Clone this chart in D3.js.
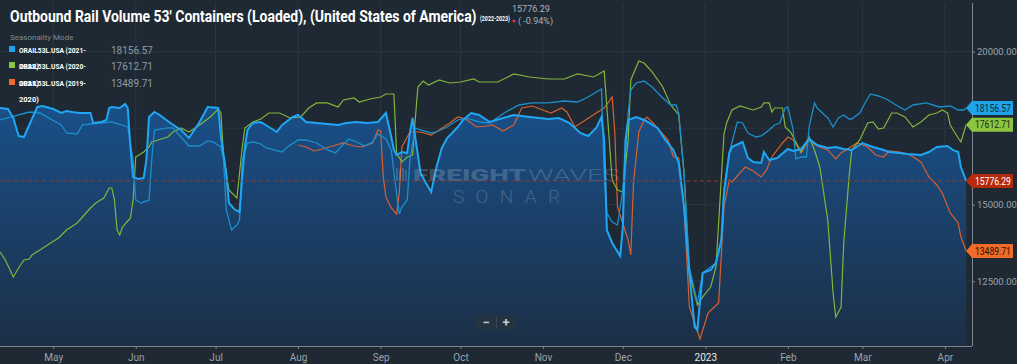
<!DOCTYPE html>
<html><head><meta charset="utf-8">
<script src="https://cdn.jsdelivr.net/npm/d3@7"></script>
<style>html,body{margin:0;padding:0;background:#1e2933;overflow:hidden}svg{display:block}</style>
</head><body><svg id="c" width="1017" height="364"></svg>
<script>
// ---- data ----
const titleText = "Outbound Rail Volume 53' Containers (Loaded), (United States of America)";
const titleSuffix = "(2022-2023)";
const lastValue = 15776.29;
const lastChange = "( -0.94%)";
const legendLabels = ["ORAIL53L.USA (2021-", "ORAIL53L.USA (2020-", "ORAIL53L.USA (2019-"];
const legendWraps = ["2022)", "2021)", "2020)"];
const legendValues = [18156.57, 17612.71, 13489.71];
const yTicks = [12500, 15000, 20000];
const monthTicks = ["2022-05-01","2022-06-01","2022-07-01","2022-08-01","2022-09-01","2022-10-01","2022-11-01","2022-12-01","2023-01-01","2023-02-01","2023-03-01","2023-04-01"];
const xDomain = ["2022-04-11","2023-04-11"];
const yDomain = [10382, 21591];

// current season 2022-2023 (area)
const season2022 = [["2022-04-11",18160],["2022-04-14",18127],["2022-04-16",17833],["2022-04-18",17245],["2022-04-20",17212],["2022-04-22",17605],["2022-04-25",18193],["2022-04-27",18225],["2022-05-01",18127],["2022-05-04",17997],["2022-05-06",18062],["2022-05-08",18029],["2022-05-11",17997],["2022-05-15",17997],["2022-05-16",17670],["2022-05-19",17703],["2022-05-21",17768],["2022-05-22",18160],["2022-05-23",18193],["2022-05-26",18160],["2022-05-28",18291],["2022-05-29",18160],["2022-05-30",16886],["2022-05-31",15905],["2022-06-02",15840],["2022-06-04",15873],["2022-06-05",16461],["2022-06-06",17866],["2022-06-08",18029],["2022-06-10",17931],["2022-06-14",17670],["2022-06-18",17441],["2022-06-21",17180],["2022-06-25",17703],["2022-06-28",18193],["2022-07-02",18160],["2022-07-03",17212],["2022-07-05",16036],["2022-07-06",15056],["2022-07-08",14859],["2022-07-10",14761],["2022-07-11",15905],["2022-07-12",16886],["2022-07-13",17441],["2022-07-15",17670],["2022-07-18",17703],["2022-07-21",17539],["2022-07-24",17376],["2022-07-26",17605],["2022-07-30",17866],["2022-08-01",17931],["2022-08-04",17703],["2022-08-08",17670],["2022-08-12",17637],["2022-08-16",17605],["2022-08-19",17670],["2022-08-23",17703],["2022-08-27",17670],["2022-08-31",17703],["2022-09-03",17997],["2022-09-05",17212],["2022-09-06",16788],["2022-09-07",16624],["2022-09-09",16722],["2022-09-11",16690],["2022-09-12",17343],["2022-09-13",17833],["2022-09-14",17212],["2022-09-16",16036],["2022-09-18",15709],["2022-09-20",15415],["2022-09-22",16232],["2022-09-24",16853],["2022-09-26",17180],["2022-09-30",17539],["2022-10-02",17768],["2022-10-05",17997],["2022-10-08",17931],["2022-10-12",17703],["2022-10-21",17931],["2022-10-27",17866],["2022-11-03",17801],["2022-11-07",17833],["2022-11-11",17670],["2022-11-15",17343],["2022-11-18",17245],["2022-11-21",17507],["2022-11-23",17866],["2022-11-24",17114],["2022-11-25",14173],["2022-11-27",13748],["2022-11-30",13324],["2022-12-01",14271],["2022-12-02",17114],["2022-12-03",17768],["2022-12-06",17866],["2022-12-09",17768],["2022-12-11",17670],["2022-12-14",17507],["2022-12-17",17114],["2022-12-20",16788],["2022-12-22",16363],["2022-12-24",14925],["2022-12-26",12768],["2022-12-28",11003],["2022-12-29",10905],["2022-12-31",12768],["2023-01-03",12866],["2023-01-05",13095],["2023-01-07",13846],["2023-01-08",15382],["2023-01-10",16690],["2023-01-11",16886],["2023-01-15",17049],["2023-01-17",16526],["2023-01-19",16396],["2023-01-22",16363],["2023-01-23",16722],["2023-01-25",16461],["2023-01-28",16526],["2023-02-01",16820],["2023-02-03",16755],["2023-02-06",16820],["2023-02-09",17147],["2023-02-12",16951],["2023-02-16",16853],["2023-02-19",16886],["2023-02-22",16820],["2023-02-25",16788],["2023-03-01",17016],["2023-03-05",16886],["2023-03-09",16788],["2023-03-11",16722],["2023-03-15",16690],["2023-03-18",16657],["2023-03-23",16624],["2023-03-26",16722],["2023-03-29",16886],["2023-04-02",16918],["2023-04-04",16788],["2023-04-06",16722],["2023-04-07",16232],["2023-04-09",15776.29]];

// 2021-2022
const season2021 = [["2022-04-11",17768],["2022-04-22",18029],["2022-04-26",17997],["2022-05-04",17605],["2022-05-06",17343],["2022-05-10",17310],["2022-05-12",17605],["2022-05-19",17670],["2022-05-23",17703],["2022-05-29",17539],["2022-05-31",16461],["2022-06-01",15154],["2022-06-03",15056],["2022-06-06",15154],["2022-06-07",16461],["2022-06-08",17441],["2022-06-13",17507],["2022-06-15",17507],["2022-06-20",17016],["2022-06-21",16918],["2022-06-25",16918],["2022-06-28",17082],["2022-06-30",17049],["2022-07-03",16886],["2022-07-04",16461],["2022-07-05",14827],["2022-07-07",14173],["2022-07-09",14336],["2022-07-10",14500],["2022-07-11",16461],["2022-07-13",17016],["2022-07-15",17049],["2022-07-18",16984],["2022-07-20",16853],["2022-07-23",16788],["2022-07-26",16722],["2022-07-28",16886],["2022-08-01",17114],["2022-08-04",17114],["2022-08-08",17016],["2022-08-12",16788],["2022-08-15",16690],["2022-08-17",16886],["2022-08-20",17147],["2022-08-23",17049],["2022-08-26",16918],["2022-08-29",17049],["2022-08-31",17310],["2022-09-03",17147],["2022-09-05",16788],["2022-09-06",16036],["2022-09-08",14696],["2022-09-09",14925],["2022-09-11",15154],["2022-09-12",16461],["2022-09-14",17507],["2022-09-16",17441],["2022-09-20",17343],["2022-09-22",17376],["2022-09-26",17539],["2022-09-30",17768],["2022-10-03",17833],["2022-10-08",17703],["2022-10-12",17670],["2022-10-18",18029],["2022-10-23",18258],["2022-10-28",18324],["2022-11-03",18324],["2022-11-09",18389],["2022-11-14",18356],["2022-11-18",18520],["2022-11-23",18781],["2022-11-24",16036],["2022-11-25",14729],["2022-11-27",14434],["2022-11-29",14336],["2022-12-01",15480],["2022-12-03",17997],["2022-12-04",18748],["2022-12-06",18977],["2022-12-09",19042],["2022-12-12",18846],["2022-12-16",18487],["2022-12-19",18258],["2022-12-21",18258],["2022-12-22",17997],["2022-12-24",16036],["2022-12-26",12964],["2022-12-29",11788],["2022-12-31",12768],["2023-01-05",13095],["2023-01-07",13846],["2023-01-08",15500],["2023-01-10",16700],["2023-01-13",17703],["2023-01-15",17670],["2023-01-17",17343],["2023-01-20",17212],["2023-01-22",17245],["2023-01-25",17441],["2023-01-27",17605],["2023-01-29",17670],["2023-01-31",18160],["2023-02-01",18193],["2023-02-03",17441],["2023-02-04",16494],["2023-02-06",16559],["2023-02-08",16559],["2023-02-09",17539],["2023-02-11",18324],["2023-02-12",18160],["2023-02-16",17833],["2023-02-18",17539],["2023-02-20",17833],["2023-02-22",17931],["2023-02-24",17801],["2023-02-25",17801],["2023-02-28",17997],["2023-03-02",18324],["2023-03-04",18618],["2023-03-07",18552],["2023-03-10",18454],["2023-03-13",18291],["2023-03-17",18095],["2023-03-20",18258],["2023-03-25",18324],["2023-03-30",18193],["2023-04-03",18225],["2023-04-06",18095],["2023-04-08",18095],["2023-04-09",18156.57]];

// 2020-2021
const season2020 = [["2022-04-11",13454],["2022-04-13",13193],["2022-04-16",12637],["2022-04-18",12931],["2022-04-20",13193],["2022-04-22",13226],["2022-04-23",13356],["2022-04-26",13520],["2022-04-30",13748],["2022-05-03",13912],["2022-05-06",14173],["2022-05-10",14402],["2022-05-12",14598],["2022-05-15",14892],["2022-05-17",15056],["2022-05-20",15219],["2022-05-22",15546],["2022-05-23",15546],["2022-05-24",15154],["2022-05-25",14173],["2022-05-26",14010],["2022-05-27",14271],["2022-05-30",14565],["2022-05-31",15154],["2022-06-01",16559],["2022-06-04",16722],["2022-06-06",16886],["2022-06-07",17049],["2022-06-13",17212],["2022-06-15",17376],["2022-06-18",17507],["2022-06-21",17376],["2022-06-25",17605],["2022-06-29",17866],["2022-07-02",18127],["2022-07-03",17997],["2022-07-04",16559],["2022-07-06",15480],["2022-07-09",15219],["2022-07-10",16036],["2022-07-11",16853],["2022-07-12",17507],["2022-07-15",17703],["2022-07-18",17801],["2022-07-21",17997],["2022-07-25",17997],["2022-07-29",17833],["2022-08-02",17866],["2022-08-05",18160],["2022-08-08",18324],["2022-08-12",18324],["2022-08-16",18193],["2022-08-18",18421],["2022-08-22",18487],["2022-08-24",18356],["2022-08-28",18454],["2022-09-01",18520],["2022-09-03",18618],["2022-09-06",18618],["2022-09-07",16690],["2022-09-09",16396],["2022-09-11",16559],["2022-09-13",16624],["2022-09-14",17768],["2022-09-15",18846],["2022-09-17",19042],["2022-09-19",18912],["2022-09-23",19075],["2022-09-27",18977],["2022-10-01",19010],["2022-10-06",19108],["2022-10-08",19010],["2022-10-15",19010],["2022-10-21",19271],["2022-10-27",19173],["2022-11-03",19108],["2022-11-09",19108],["2022-11-14",19271],["2022-11-20",19173],["2022-11-24",19370],["2022-11-25",18193],["2022-11-27",15807],["2022-11-29",15480],["2022-12-01",15415],["2022-12-03",17114],["2022-12-04",19075],["2022-12-07",19696],["2022-12-09",19631],["2022-12-12",19337],["2022-12-16",18846],["2022-12-19",18258],["2022-12-22",17931],["2022-12-24",16036],["2022-12-26",12768],["2022-12-29",11722],["2022-12-31",11984],["2023-01-03",12310],["2023-01-05",12964],["2023-01-08",17300],["2023-01-09",17670],["2023-01-11",18095],["2023-01-14",18225],["2023-01-19",18095],["2023-01-22",18193],["2023-01-23",18324],["2023-01-25",18324],["2023-01-26",18029],["2023-01-27",18160],["2023-01-30",18160],["2023-01-31",17539],["2023-02-02",17376],["2023-02-06",16722],["2023-02-09",17212],["2023-02-11",16788],["2023-02-13",16232],["2023-02-16",14500],["2023-02-18",12114],["2023-02-19",11330],["2023-02-21",11657],["2023-02-22",13748],["2023-02-24",15905],["2023-02-25",16788],["2023-02-28",17114],["2023-03-03",17670],["2023-03-05",17703],["2023-03-07",17474],["2023-03-09",17507],["2023-03-12",17997],["2023-03-14",17997],["2023-03-17",17866],["2023-03-20",17539],["2023-03-23",17703],["2023-03-26",17931],["2023-03-29",17997],["2023-03-31",18095],["2023-04-02",17997],["2023-04-03",17605],["2023-04-06",17180],["2023-04-07",17049],["2023-04-09",17612.71]];

// 2019-2020
const season2019 = [["2022-08-01",16951],["2022-08-04",16886],["2022-08-07",16755],["2022-08-10",16820],["2022-08-14",16918],["2022-08-18",17016],["2022-08-22",16918],["2022-08-25",16886],["2022-08-29",17016],["2022-08-31",17441],["2022-09-01",17409],["2022-09-02",15905],["2022-09-03",15252],["2022-09-05",14892],["2022-09-07",14696],["2022-09-08",15382],["2022-09-09",16886],["2022-09-12",17376],["2022-09-16",17376],["2022-09-20",17278],["2022-09-23",17441],["2022-09-27",17670],["2022-09-30",17866],["2022-10-03",17801],["2022-10-07",17539],["2022-10-11",17572],["2022-10-13",17605],["2022-10-17",17409],["2022-10-21",17605],["2022-10-24",18160],["2022-10-28",18225],["2022-11-04",17997],["2022-11-08",18160],["2022-11-10",18029],["2022-11-13",17539],["2022-11-17",17768],["2022-11-21",17997],["2022-11-24",18160],["2022-11-27",18520],["2022-11-28",17343],["2022-11-29",14925],["2022-12-03",13846],["2022-12-04",13356],["2022-12-05",15709],["2022-12-07",17376],["2022-12-09",17768],["2022-12-10",17866],["2022-12-12",17703],["2022-12-18",17114],["2022-12-20",16559],["2022-12-22",16526],["2022-12-24",14925],["2022-12-26",11657],["2022-12-30",10611],["2023-01-02",11461],["2023-01-04",11624],["2023-01-06",11788],["2023-01-08",14925],["2023-01-10",15807],["2023-01-11",15742],["2023-01-16",16232],["2023-01-19",16101],["2023-01-22",15905],["2023-01-24",16134],["2023-01-26",16559],["2023-01-30",17016],["2023-02-01",17212],["2023-02-03",17114],["2023-02-06",16690],["2023-02-09",17114],["2023-02-12",16918],["2023-02-16",16788],["2023-02-19",16494],["2023-02-21",16690],["2023-02-24",16853],["2023-02-27",17016],["2023-03-03",16886],["2023-03-06",16624],["2023-03-09",16559],["2023-03-11",16755],["2023-03-15",16722],["2023-03-19",16624],["2023-03-23",16396],["2023-03-26",15905],["2023-03-29",15644],["2023-03-31",15382],["2023-04-03",14729],["2023-04-06",14402],["2023-04-07",13944],["2023-04-09",13489.71]];

// ---- drawing ----
const parse = d3.timeParse("%Y-%m-%d");
const svg = d3.select("#c");
const W = 1017, H = 364;
const plot = {left: 0, right: 972, top: 3, bottom: 346};
const x = d3.scaleTime().domain(xDomain.map(parse)).range([0, 971.5]);
const y = d3.scaleLinear().domain(yDomain).range([plot.bottom, plot.top]);
const FONT = "Roboto, sans-serif";

// text squeezed horizontally to a given width via transform (keeps bbox honest)
function fitText(parent, str, x0, y0, width, attrs) {
  const t = parent.append("text").attr("x", 0).attr("y", 0).text(str);
  Object.entries(attrs).forEach(([k, v]) => t.attr(k, v));
  const w = t.node().getComputedTextLength();
  const s = w > 0 ? width / w : 1;
  t.attr("transform", `translate(${x0},${y0}) scale(${s},1)`);
  return t;
}

svg.append("rect").attr("width", W).attr("height", H).attr("fill", "#1e2933");

const defs = svg.append("defs");
const grad = defs.append("linearGradient").attr("id", "ag").attr("gradientUnits", "userSpaceOnUse")
  .attr("x1", 0).attr("x2", 0).attr("y1", 100).attr("y2", plot.bottom);
grad.append("stop").attr("offset", 0).attr("stop-color", "#19508a");
grad.append("stop").attr("offset", 1).attr("stop-color", "#1c2f46");
defs.append("clipPath").attr("id", "clip").append("rect")
  .attr("x", 0).attr("y", plot.top).attr("width", plot.right).attr("height", plot.bottom - plot.top);

// gridlines
const g = svg.append("g");
g.selectAll(".vg").data(monthTicks.map(parse)).join("line")
  .attr("x1", d => x(d)).attr("x2", d => x(d)).attr("y1", plot.top).attr("y2", plot.bottom)
  .attr("stroke", "#2a3744").attr("stroke-width", 1);
g.selectAll(".hg").data(yTicks.concat([17500])).join("line")
  .attr("x1", 0).attr("x2", plot.right).attr("y1", d => y(d)).attr("y2", d => y(d))
  .attr("stroke", "#2a3744").attr("stroke-width", 1);

const pts = arr => arr.map(d => [parse(d[0]), d[1]]);
const cp = svg.append("g").attr("clip-path", "url(#clip)");

const area = d3.area().x(d => x(d[0])).y0(plot.bottom).y1(d => y(d[1]));
const line = d3.line().x(d => x(d[0])).y(d => y(d[1]));

cp.append("path").datum(pts(season2022)).attr("d", area).attr("fill", "url(#ag)");

// watermark
const wm = svg.append("g").attr("opacity", 0.22).attr("fill", "#c9d3dd");
fitText(wm, "FREIGHT", 413, 181, 113, {"font-family": FONT, "font-size": 17, "font-weight": 900});
fitText(wm, "WAVES", 528, 181, 92, {"font-family": FONT, "font-size": 17, "font-weight": 300});
wm.append("text").attr("x", 453).attr("y", 203).attr("font-family", FONT)
  .attr("font-size", 19).attr("font-weight", 300).attr("textLength", 107).attr("lengthAdjust", "spacing").text("SONAR");
[0, 3, 6, 9].forEach(o => wm.append("rect").attr("x", 396 + o).attr("y", 168 + (o % 6 ? 2 : 0)).attr("width", 2).attr("height", 13 - (o % 6 ? 2 : 0)));

// dashed last-value line
svg.append("line").attr("x1", 0).attr("x2", x(parse("2023-04-09"))).attr("y1", y(lastValue)).attr("y2", y(lastValue))
  .attr("stroke", "#8e3b2c").attr("stroke-width", 1).attr("stroke-dasharray", "4,3");

cp.append("path").datum(pts(season2019)).attr("d", line).attr("fill", "none").attr("stroke", "#d8602e").attr("stroke-width", 1.2);
cp.append("path").datum(pts(season2020)).attr("d", line).attr("fill", "none").attr("stroke", "#82b53b").attr("stroke-width", 1.2);
cp.append("path").datum(pts(season2021)).attr("d", line).attr("fill", "none").attr("stroke", "#1b8fcc").attr("stroke-width", 1.3);
cp.append("path").datum(pts(season2022)).attr("d", line).attr("fill", "none").attr("stroke", "#1fa6f4").attr("stroke-width", 2);

// axes
const xAxis = d3.axisBottom(x).tickValues(monthTicks.map(parse)).tickSize(3).tickPadding(5)
  .tickFormat(d => d.getMonth() === 0 ? d3.timeFormat("%Y")(d) : d3.timeFormat("%b")(d));
const xa = svg.append("g").attr("transform", `translate(0,${plot.bottom})`).call(xAxis);
xa.select(".domain").attr("d", `M0,0.5H${plot.right}`).attr("stroke", "#7d8792");
xa.selectAll(".tick line").attr("stroke", "#7d8792");
xa.selectAll(".tick text").attr("font-family", FONT).attr("font-size", 10)
  .attr("fill", d => d.getMonth() === 0 ? "#e6e9ec" : "#9aa3ad");

const yAxis = d3.axisRight(y).tickValues(yTicks).tickSize(3).tickPadding(2).tickFormat(d3.format(".2f"));
const ya = svg.append("g").attr("transform", `translate(${plot.right},0)`).call(yAxis);
ya.select(".domain").attr("d", `M0.5,${plot.top}V${plot.bottom}`).attr("stroke", "#7d8792");
ya.selectAll(".tick line").attr("stroke", "#7d8792");
ya.selectAll(".tick text").attr("font-family", FONT).attr("font-size", 9.5).attr("fill", "#9aa3ad");

// right badges
const badges = [
  {v: legendValues[0], fill: "#1ea3e8", tc: "#10273a"},
  {v: legendValues[1], fill: "#8cc540", tc: "#1d2a16"},
  {v: lastValue, fill: "#b52a0c", tc: "#ffffff"},
  {v: legendValues[2], fill: "#f06a28", tc: "#2a1408"}
];
const bx = 966, bw = 47, bh = 14;
const bg = svg.append("g");
badges.forEach(b => {
  const cy = y(b.v);
  bg.append("path").attr("d", `M${bx},${cy}L${bx+6},${cy-bh/2}H${bx+bw}V${cy+bh/2}H${bx+6}Z`).attr("fill", b.fill);
  fitText(bg, d3.format(".2f")(b.v), bx + 9, cy + 3.6, 36, {"font-family": FONT, "font-size": 10, "fill": b.tc});
});

// title
fitText(svg, titleText, 10, 22, 467, {"font-family": FONT, "font-weight": 700, "font-size": 17, "fill": "#ffffff"});
fitText(svg, titleSuffix, 480, 21, 30, {"font-family": FONT, "font-weight": 700, "font-size": 6.5, "fill": "#ffffff"});
svg.append("text").attr("x", 512).attr("y", 11.5).attr("font-family", FONT)
  .attr("font-size", 9).attr("fill", "#aab2ba").text(d3.format(".2f")(lastValue));
svg.append("circle").attr("cx", 514).attr("cy", 21).attr("r", 1.6).attr("fill", "#e0303a");
svg.append("text").attr("x", 518).attr("y", 24).attr("font-family", FONT)
  .attr("font-size", 9).attr("fill", "#aab2ba").text(lastChange);

// legend
svg.append("text").attr("x", 10).attr("y", 40).attr("font-family", FONT)
  .attr("font-size", 8).attr("fill", "#7f8a95").text("Seasonality Mode");
const legColors = ["#1ea3e8", "#8cc540", "#f06a28"];
const rowY = [50, 66, 83];
legendLabels.forEach((t, i) => {
  svg.append("rect").attr("x", 9).attr("y", rowY[i] - 4).attr("width", 6).attr("height", 6).attr("fill", legColors[i]);
  fitText(svg, t, 19, rowY[i] + 2.5, 67, {"font-family": FONT, "font-weight": 700, "font-size": 7.5, "fill": "#ffffff"});
  svg.append("text").attr("x", 19).attr("y", (i < 2 ? rowY[i + 1] : 99) + 2.5).attr("font-family", FONT).attr("font-weight", 700)
    .attr("font-size", 7.5).attr("fill", "#ffffff").text(legendWraps[i]);
  svg.append("text").attr("x", 111).attr("y", rowY[i] + 3.5).attr("font-family", FONT)
    .attr("font-size", 10).attr("fill", "#8f99a3").text(d3.format(".2f")(legendValues[i]));
});

// zoom control
const zc = svg.append("g");
zc.append("rect").attr("x", 476).attr("y", 315).attr("width", 40).attr("height", 15).attr("rx", 2).attr("fill", "#243341");
zc.append("line").attr("x1", 496.5).attr("x2", 496.5).attr("y1", 317).attr("y2", 328).attr("stroke", "#3a4856");
zc.append("text").attr("x", 486).attr("y", 327).attr("text-anchor", "middle").attr("font-family", FONT)
  .attr("font-size", 13).attr("font-weight", 700).attr("fill", "#c5ccd3").text("−");
zc.append("text").attr("x", 506).attr("y", 327).attr("text-anchor", "middle").attr("font-family", FONT)
  .attr("font-size", 13).attr("font-weight", 700).attr("fill", "#c5ccd3").text("+");
</script>
</body></html>
